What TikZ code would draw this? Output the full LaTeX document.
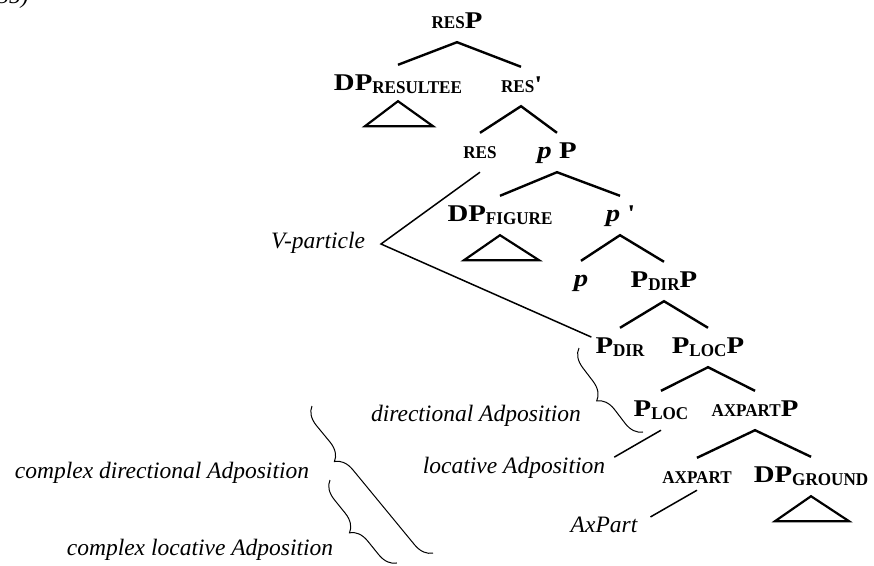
\documentclass[tikz,border=0pt]{standalone}
\usepackage{fontspec}
\setmainfont{Liberation Serif}
\newfontfamily\bigf[FakeStretch=1.2]{Liberation Serif}
\newfontfamily\smf[FakeStretch=0.95]{Liberation Serif}
\newcommand{\smc}[1]{{\smf\bfseries\fontsize{18}{21}\selectfont #1}}
\newcommand{\lowsc}[1]{\raisebox{-3pt}{\smc{#1}}}
\usetikzlibrary{decorations.pathreplacing}

\begin{document}
\begin{tikzpicture}[
    x=1pt,y=-1pt,
    cat/.style={font=\bigf\bfseries\fontsize{24}{28}\selectfont, text height=17pt, text depth=6pt, inner xsep=4pt, inner ysep=8pt, anchor=base},
    gloss/.style={font=\itshape\fontsize{23.5}{28}\selectfont, inner sep=3pt},
    branch/.style={draw=black, line width=2.4pt},
    tri/.style={draw=black, line width=2.2pt, line join=miter},
    ann/.style={draw=black, line width=1.5pt},
    brc/.style={draw=black, line width=1pt, decorate, decoration={brace, amplitude=18pt, mirror}}
  ]
    \useasboundingbox (0,0) rectangle (874,565);
    \node[gloss, anchor=base east] (exno) at (32,3) {(35)};

    \node[cat] (resP) at (457,28) {\smc{RES}P};
    \node[cat] (dpres) at (398,90) {DP\lowsc{RESULTEE}};
    \node[cat] (resbar) at (521,92) {\smc{RES}\textquotesingle};
    \node[cat] (res) at (480,158) {\smc{RES}};
    \node[cat] (pP) at (557,158) {\textit{p} P};
    \node[cat] (dpfig) at (500,221) {DP\lowsc{FIGURE}};
    \node[cat] (pbar) at (620,221) {\textit{p} \textquotesingle};
    \node[cat] (plow) at (581,286) {\textit{p}};
    \node[cat] (pdirP) at (664,287) {P\lowsc{DIR}P};
    \node[cat] (pdir) at (620,353) {P\lowsc{DIR}};
    \node[cat] (plocP) at (708,353) {P\lowsc{LOC}P};
    \node[cat] (ploc) at (661,416) {P\lowsc{LOC}};
    \node[cat] (axpartP) at (755,416) {\smc{AXPART}P};
    \node[cat] (axpart) at (697,483) {\smc{AXPART}};
    \node[cat] (dpgrd) at (811,482) {DP\lowsc{GROUND}};

    \draw[branch] (dpres.north) -- (resP.south) -- (resbar.north);
    \draw[branch] (res.north) -- (resbar.south) -- (pP.north);
    \draw[branch] (dpfig.north) -- (pP.south) -- (pbar.north);
    \draw[branch] (plow.north) -- (pbar.south) -- (pdirP.north);
    \draw[branch] (pdir.north) -- (pdirP.south) -- (plocP.north);
    \draw[branch] (ploc.north) -- (plocP.south) -- (axpartP.north);
    \draw[branch] (axpart.north) -- (axpartP.south) -- (dpgrd.north);

    \draw[tri] ([yshift=3pt]dpres.south) -- ++(-33,25) -- ++(68,0) -- cycle;
    \draw[tri] (dpfig.south) -- ++(-36,25) -- ++(75,0) -- cycle;
    \draw[tri] (dpgrd.south) -- ++(-36,25) -- ++(74,0) -- cycle;

    \node[gloss] (vpart) at (318,243) {V-particle};
    \node[gloss] (diradp) at (476,416) {directional Adposition};
    \node[gloss] (locadp) at (514,468) {locative Adposition};
    \node[gloss] (axlab) at (604,525) {AxPart};
    \node[gloss] (cdiradp) at (162,473) {complex directional Adposition};
    \node[gloss] (clocadp) at (200,550) {complex locative Adposition};

    \coordinate (vtip) at (381,244);
    \draw[ann] (res.south) -- (vtip) -- (pdir.160);
    \draw[ann] ([xshift=6pt,yshift=-3pt]locadp.north east) -- (ploc.south);
    \draw[ann] ([xshift=10pt,yshift=-3pt]axlab.north east) -- ([yshift=7pt]axpart.south);

    \coordinate (db1) at (579,348);
    \coordinate (db2) at (643,432);
    \coordinate (cdb1) at (312,406);
    \coordinate (cdb2) at (433,553);
    \coordinate (clb1) at (330,480);
    \coordinate (clb2) at (397,563);
    \draw[brc] (db1) -- (db2);
    \draw[brc, decoration={aspect=0.3}] (cdb1) -- (cdb2);
    \draw[brc] (clb1) -- (clb2);
\end{tikzpicture}
\end{document}
